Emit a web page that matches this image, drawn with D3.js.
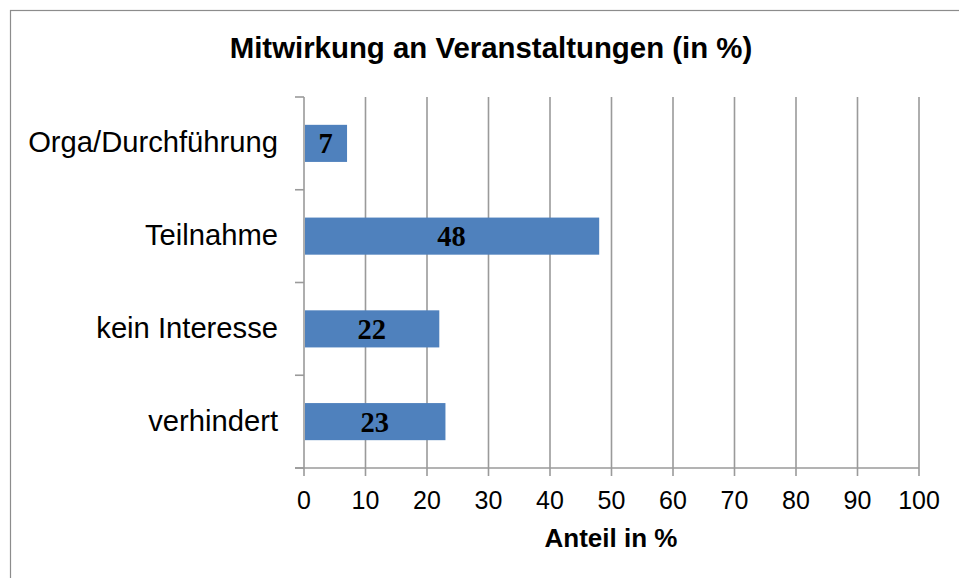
<!DOCTYPE html>
<html><head><meta charset="utf-8">
<script src="https://cdn.jsdelivr.net/npm/d3@7"></script>
<style>body{margin:0;background:#fff}</style>
</head><body>
<svg id="c" width="959" height="578"></svg>
<script>
const categories = ["Orga/Durchführung","Teilnahme","kein Interesse","verhindert"];
const values = [7,48,22,23];
const xTicks = [0,10,20,30,40,50,60,70,80,90,100];
const title = "Mitwirkung an Veranstaltungen (in %)";
const xTitle = "Anteil in %";

const svg = d3.select("#c");
svg.append("rect").attr("x",10.5).attr("y",10.5).attr("width",960).attr("height",580)
  .attr("fill","#fff").attr("stroke","#8c8c8c").attr("stroke-width",1.2);

const L=304, R=919, T=97, B=468;
const x = d3.scaleLinear().domain([0,100]).range([L,R]);
const y = d3.scaleBand().domain(categories).range([T,B]).paddingInner(0.6).paddingOuter(0.3);
const gridC = "#9a9a9a";
const sans = "'Liberation Sans', Arial, sans-serif";

svg.append("g").selectAll("line").data(xTicks).join("line")
  .attr("x1",d=>x(d)).attr("x2",d=>x(d)).attr("y1",T).attr("y2",B+8)
  .attr("stroke",gridC).attr("stroke-width",1.6);
svg.append("line").attr("x1",L-9).attr("x2",R).attr("y1",B).attr("y2",B)
  .attr("stroke",gridC).attr("stroke-width",1.6);
const step = y.step();
const yTickPos = d3.range(categories.length+1).map(i=>T+i*step);
svg.append("g").selectAll("line").data(yTickPos).join("line")
  .attr("x1",L-9).attr("x2",L).attr("y1",d=>d).attr("y2",d=>d)
  .attr("stroke",gridC).attr("stroke-width",1.6);

svg.append("g").selectAll("rect").data(values).join("rect")
  .attr("x",x(0)+1).attr("y",(d,i)=>y(categories[i]))
  .attr("width",d=>x(d)-x(0)-1).attr("height",y.bandwidth())
  .attr("fill","#4F81BD");

svg.append("g").selectAll("text").data(values).join("text")
  .attr("x",d=>(x(0)+x(d))/2).attr("y",(d,i)=>y(categories[i])+y.bandwidth()/2+10)
  .attr("text-anchor","middle").attr("font-family","'Liberation Serif', 'DejaVu Serif', serif")
  .attr("font-weight","bold").attr("font-size",28.5).attr("fill","#000")
  .text(d=>d);

svg.append("g").selectAll("text").data(categories).join("text")
  .attr("x",278).attr("y",d=>y(d)+y.bandwidth()/2+9)
  .attr("text-anchor","end").attr("font-family",sans)
  .attr("font-size",29.2).attr("fill","#000").text(d=>d);

svg.append("g").selectAll("text").data(xTicks).join("text")
  .attr("x",d=>x(d)).attr("y",509)
  .attr("text-anchor","middle").attr("font-family",sans)
  .attr("font-size",25).attr("fill","#000").text(d=>d);

svg.append("text").attr("x",611).attr("y",547).attr("text-anchor","middle")
  .attr("font-family",sans).attr("font-weight","bold")
  .attr("font-size",26).text(xTitle);

svg.append("text").attr("x",491).attr("y",58).attr("text-anchor","middle")
  .attr("font-family",sans).attr("font-weight","bold")
  .attr("font-size",29.4).text(title);
</script>
</body></html>
